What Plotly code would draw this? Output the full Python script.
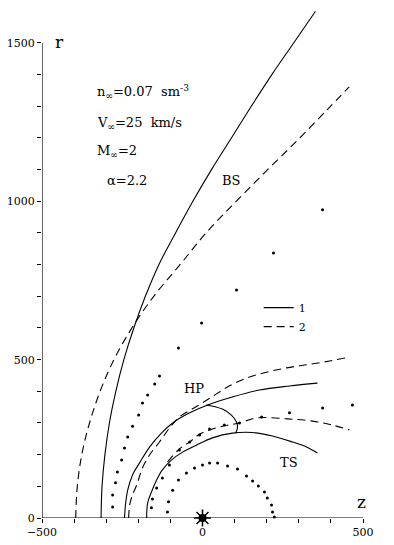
import plotly.graph_objects as go

# curves: z (horizontal), r (vertical)
bs1_z = [-316, -313, -304, -290, -270, -245, -214, -178, -136, -84, -30, 28, 90, 152, 216, 284, 352]
bs1_r = [0, 100, 200, 300, 400, 500, 600, 700, 800, 900, 1000, 1100, 1200, 1300, 1400, 1500, 1600]

bs2_z = [-395, -390, -376, -352, -319, -276, -220, -152, -70, 11, 105, 200, 298, 392, 457]
bs2_r = [0, 100, 200, 300, 400, 500, 600, 700, 800, 900, 1000, 1097, 1195, 1293, 1361]

hp1_z = [-243, -240, -233, -218, -196, -165, -128, -93, -40, 16, 93, 177, 271, 358]
hp1_r = [0, 41, 88, 136, 174, 224, 268, 300, 332, 357, 382, 404, 417, 426]

hp2_z = [-230, -227, -218, -205, -187, -165, -134, -103, -72, -19, 30, 75, 140, 202, 262, 318, 380, 447]
hp2_r = [0, 41, 73, 104, 158, 199, 240, 284, 319, 352, 383, 412, 443, 461, 474, 483, 493, 506]

ts1_z = [-174, -171, -159, -143, -125, -97, -62, -19, 31, 93, 156, 218, 280, 324, 358]
ts1_r = [0, 47, 82, 120, 152, 183, 208, 230, 253, 268, 270, 259, 240, 224, 205]

ts2_z = [-109, -72, -40, -9, 22, 68, 115, 168, 265, 342, 402, 458]
ts2_r = [177, 218, 240, 265, 278, 291, 300, 316, 313, 306, 294, 278]

loop_z = [12, 62, 90, 106, 109, 103]
loop_r = [357, 344, 325, 303, 284, 268]

# dotted lines
dota_z = [-280, -280, -271, -265, -252, -243, -233, -218, -199, -187, -171, -149, -134, -75, -3, 106, 221, 374]
dota_r = [35, 73, 111, 145, 183, 221, 256, 290, 325, 363, 388, 423, 448, 537, 616, 720, 837, 973]

dotb_z = [-159, -156, -143, -125, -103, -72, -40, -9, 22, 68, 115, 184, 271, 374, 467]
dotb_r = [32, 60, 95, 126, 167, 215, 240, 262, 281, 294, 300, 319, 332, 347, 357]

dotc_z = [-109, -106, -93, -75, -50, -25, 0, 22, 47, 78, 109, 137, 156, 174, 193, 202, 215, 218, 224]
dotc_r = [19, 51, 88, 120, 142, 158, 167, 174, 174, 164, 155, 133, 117, 101, 82, 63, 41, 19, 3]

x_ticks = list(range(-500, 501, 100))
x_labels = ['\u2212500' if v == -500 else ('0' if v == 0 else ('500' if v == 500 else '')) for v in x_ticks]
y_ticks = list(range(0, 1501, 100))
y_labels = [str(v) if v % 500 == 0 else '' for v in y_ticks]

FONT = 'DejaVu Serif'
DASH = '8px,5px'

fig = go.Figure()


def add_line(z, r, dash='solid', name=None):
    fig.add_trace(go.Scatter(x=z, y=r, mode='lines', line_shape='spline',
                             line=dict(color='black', width=1.1, dash=dash),
                             name=name if name else '', showlegend=name is not None,
                             hoverinfo='skip'))


add_line(bs1_z, bs1_r, name='1')
add_line(bs2_z, bs2_r, dash=DASH, name='2')
add_line(hp1_z, hp1_r)
add_line(hp2_z, hp2_r, dash=DASH)
add_line(ts1_z, ts1_r)
add_line(ts2_z, ts2_r, dash=DASH)
add_line(loop_z, loop_r)

for z, r in [(dota_z, dota_r), (dotb_z, dotb_r), (dotc_z, dotc_r)]:
    fig.add_trace(go.Scatter(x=z, y=r, mode='markers', marker=dict(color='black', size=3),
                             showlegend=False, hoverinfo='skip', cliponaxis=False))

# the sun at origin
fig.add_trace(go.Scatter(x=[0], y=[0], mode='markers', showlegend=False, cliponaxis=False,
                         marker=dict(symbol='circle', size=8, color='black')))
fig.add_trace(go.Scatter(x=[0], y=[0], mode='markers', showlegend=False, cliponaxis=False,
                         marker=dict(symbol='asterisk-open', size=14, color='black',
                                     line=dict(width=1.5, color='black'))))

# axis lines
fig.add_shape(type='line', x0=-500, y0=0, x1=500, y1=0, line=dict(color='black', width=1.2))
fig.add_shape(type='line', x0=-500, y0=0, x1=-500, y1=1500, line=dict(color='black', width=1.2))

notes = [
    (-336, 1345, 'n<sub>\u221e</sub>=0.07  sm<sup>-3</sup>'),
    (-336, 1247, 'V<sub>\u221e</sub>=25  km/s'),
    (-336, 1156, 'M<sub>\u221e</sub>=2'),
    (-305, 1067, '\u03b1=2.2'),
]
for x, y, t in notes:
    fig.add_annotation(x=x, y=y, text=t, showarrow=False, xanchor='left',
                       font=dict(family=FONT, size=13, color='black'))

labels = [(-445, 1503, 'r', 17), (495, 52, 'z', 17), (90, 1067, 'BS', 13),
          (-25, 410, 'HP', 13), (268, 174, 'TS', 13)]
for x, y, t, s in labels:
    fig.add_annotation(x=x, y=y, text=t, showarrow=False,
                       font=dict(family=FONT, size=s, color='black'))

fig.update_xaxes(range=[-500, 500], tickvals=x_ticks, ticktext=x_labels, ticks='outside',
                 ticklen=4, tickwidth=1, tickcolor='black', showgrid=False, zeroline=False,
                 showline=False, tickfont=dict(family=FONT, size=11, color='black'))
fig.update_yaxes(range=[0, 1610.4], tickvals=y_ticks, ticktext=y_labels, ticks='outside',
                 ticklen=4, tickwidth=1, tickcolor='black', showgrid=False, zeroline=False,
                 showline=False, tickfont=dict(family=FONT, size=11, color='black'))

# page body has an 8px margin, so the figure is a bit smaller than the window
fig.update_layout(width=386, height=537, margin=dict(l=34, r=31, t=0, b=27),
                  paper_bgcolor='white', plot_bgcolor='white',
                  legend=dict(x=0.675, y=0.441, xanchor='left', yanchor='top',
                              bgcolor='rgba(0,0,0,0)', font=dict(family=FONT, size=11, color='black'),
                              tracegroupgap=0))

fig.write_html("out.html", config={'displayModeBar': False})
